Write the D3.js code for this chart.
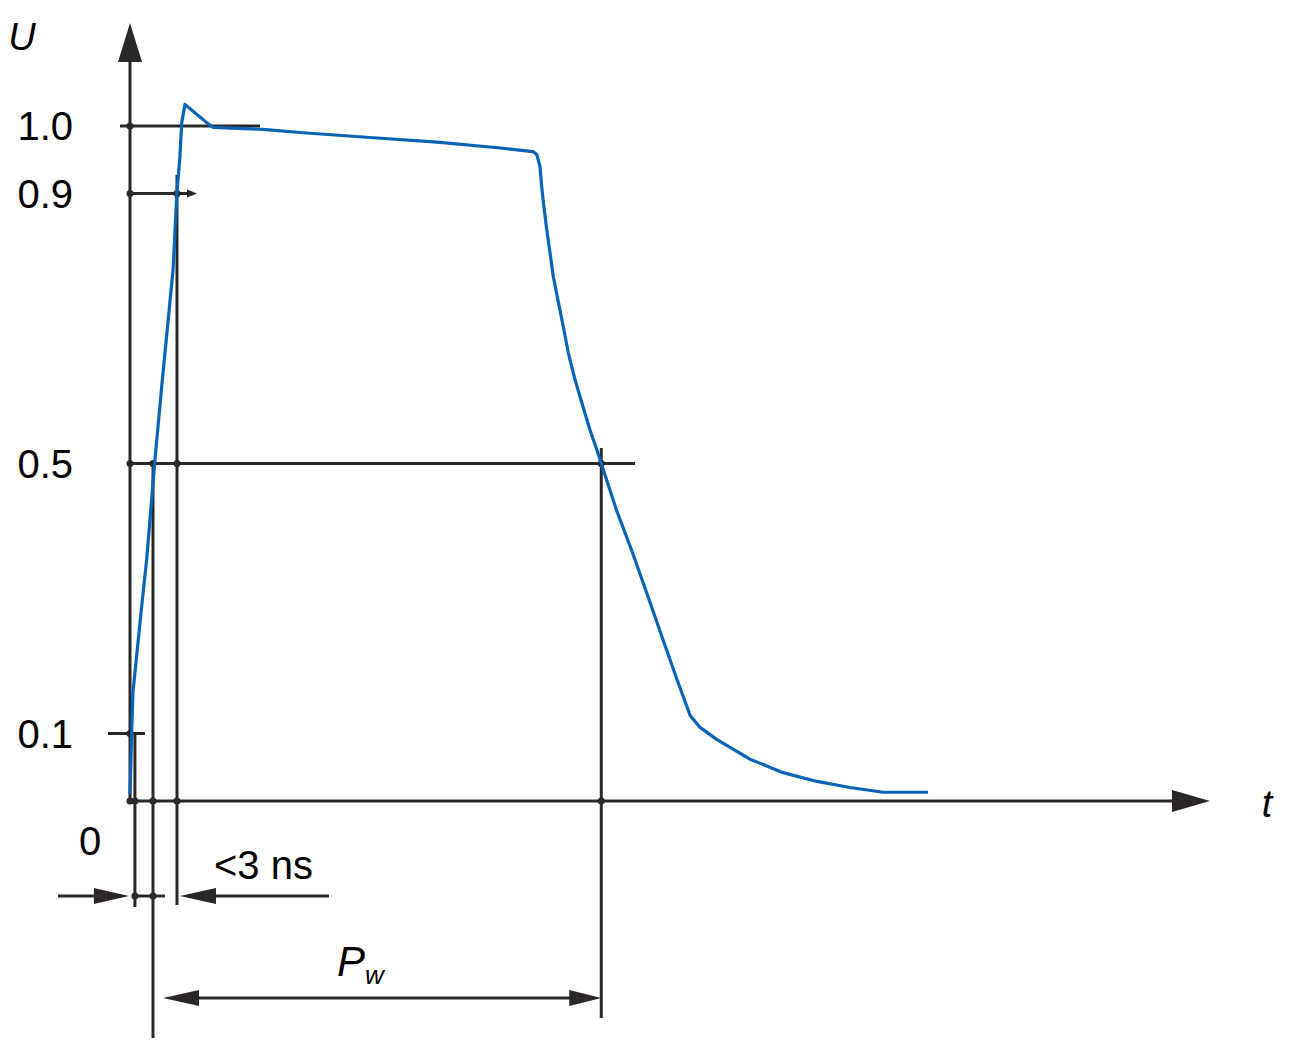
<!DOCTYPE html>
<html><head><meta charset="utf-8">
<script src="https://cdn.jsdelivr.net/npm/d3@7"></script>
<style>body{margin:0;background:#fff}svg{display:block}</style>
</head><body>
<svg id="c" width="1292" height="1060"></svg>
<script>
// pulse waveform (time in ns, normalised voltage)
const timeNs  = [0, 0.12, 0.21, 0.83, 1.19, 1.78, 2.26, 3.07, 3.33, 3.56, 3.69, 3.92, 5.47, 5.92, 9.48, 12.33, 17.11, 21.89, 26.59, 28.73, 29.00, 29.23, 29.35, 29.47, 29.71, 29.94, 30.18, 30.54, 30.89, 31.25, 31.73, 32.30, 32.79, 33.27, 33.58, 34.72, 35.79, 36.93, 38.00, 39.07, 39.93, 40.64, 41.85, 44.20, 46.56, 48.98, 51.33, 53.69, 56.89];
const voltage = [0.01, 0.101, 0.161, 0.288, 0.358, 0.506, 0.614, 0.787, 0.896, 0.955, 1.005, 1.032, 1.005, 0.998, 0.995, 0.990, 0.983, 0.976, 0.967, 0.962, 0.958, 0.940, 0.911, 0.887, 0.847, 0.813, 0.777, 0.739, 0.703, 0.664, 0.624, 0.584, 0.550, 0.521, 0.501, 0.429, 0.370, 0.303, 0.239, 0.176, 0.127, 0.109, 0.091, 0.062, 0.042, 0.029, 0.020, 0.013, 0.013];
const yTicks = [0.1, 0.5, 0.9, 1.0];
const yTickLabels = ["0.1", "0.5", "0.9", "1.0"];
// reference instants: 10 % rise, 50 % rise, 90 % rise, 50 % fall
const markTimes = [0.35, 1.64, 3.35, 33.6];
const riseLabel = "<3 ns";

const svg = d3.select("#c");
const ink = "#2b2727", blue = "#0b63b5";
const FONT = "'Liberation Sans', Arial, sans-serif";
const x = d3.scaleLinear().domain([0, 77]).range([130, 1210]);
const y = d3.scaleLinear().domain([0, 1]).range([801, 126]);
const [t10, t50, t90, tf50] = markTimes.map(x);

function ln(x1, y1, x2, y2, w = 3) {
  svg.append("line").attr("x1", x1).attr("y1", y1).attr("x2", x2).attr("y2", y2)
    .attr("stroke", ink).attr("stroke-width", w).attr("stroke-linecap", "butt");
}
function arrow(tx, ty, dir, len, half) {
  let pts;
  if (dir === "up") pts = [[tx, ty], [tx - half, ty + len], [tx + half, ty + len]];
  if (dir === "right") pts = [[tx, ty], [tx - len, ty - half], [tx - len, ty + half]];
  if (dir === "left") pts = [[tx, ty], [tx + len, ty - half], [tx + len, ty + half]];
  svg.append("path").attr("d", "M" + pts.map(p => p.join(",")).join("L") + "Z").attr("fill", ink);
}
function dot(cx, cy, r = 3.5) {
  svg.append("circle").attr("cx", cx).attr("cy", cy).attr("r", r).attr("fill", ink);
}

// axes
ln(x(0), y(0), x(0), 50);
arrow(x(0), 23, "up", 39, 12);
ln(x(0), y(0), 1180, y(0));
arrow(x(77), y(0), "right", 38, 11);

// horizontal reference lines
ln(120, y(1.0), 260, y(1.0));
ln(x(0), y(0.9), 190, y(0.9));
arrow(197, y(0.9), "right", 10, 4);
ln(x(0), y(0.5), 635, y(0.5));
ln(108, y(0.1), 145, y(0.1));

// vertical reference lines
ln(t10, y(0.1), t10, 907);
ln(t50, y(0.5), t50, 1038);
ln(t90, 175, t90, 905);
ln(tf50, 448, tf50, 1018);

// rise-time dimension
const dimY1 = 896;
ln(58, dimY1, 96, dimY1);
arrow(t10 - 6, dimY1, "right", 35, 8);
ln(t10, dimY1, 165, dimY1);
arrow(t90 + 3, dimY1, "left", 36, 8);
ln(t90 + 35, dimY1, 329, dimY1);

// pulse width dimension
const dimY2 = 998;
arrow(t50 + 10, dimY2, "left", 36, 8);
ln(t50 + 40, dimY2, tf50 - 28, dimY2);
arrow(tf50, dimY2, "right", 32, 8);

// intersection dots
[[x(0), y(1.0)], [x(0), y(0.9)], [t90, y(0.9)], [x(0), y(0.5)], [t50, y(0.5)], [t90, y(0.5)], [tf50, y(0.5)],
 [x(0), y(0.1)], [t10, y(0)], [t50, y(0)], [t90, y(0)], [tf50, y(0)], [t10, dimY1], [t50, dimY1], [x(0), y(0)]]
  .forEach(p => dot(p[0], p[1]));

// waveform
const pts = timeNs.map((t, i) => [t, voltage[i]]);
svg.append("path").datum(pts)
  .attr("d", d3.line().x(d => x(d[0])).y(d => y(d[1])))
  .attr("fill", "none").attr("stroke", blue).attr("stroke-width", 3.2).attr("stroke-linejoin", "round");

// y tick labels
svg.selectAll("text.yl").data(yTicks).enter().append("text")
  .attr("class", "yl").attr("x", 73).attr("y", d => y(d)).attr("dy", "0.36em")
  .attr("text-anchor", "end").attr("font-family", FONT).attr("font-size", 40).attr("fill", "#000")
  .text((d, i) => yTickLabels[i]);

function txt(tx, ty, s, size, opts = {}) {
  return svg.append("text").attr("x", tx).attr("y", ty).attr("font-family", FONT).attr("font-size", size)
    .attr("fill", "#000").attr("text-anchor", opts.anchor || "start")
    .attr("font-style", opts.italic ? "italic" : "normal").text(s);
}
txt(22, 50, "U", 38, { anchor: "middle", italic: true });
txt(1267, 817, "t", 38, { anchor: "middle", italic: true });
txt(90, 855, "0", 40, { anchor: "middle" });
txt(214, 879, riseLabel, 40);
const pw = txt(337, 976, "P", 42, { italic: true });
pw.append("tspan").attr("font-size", 26).attr("dy", 8).text("w");
</script>
</body></html>
